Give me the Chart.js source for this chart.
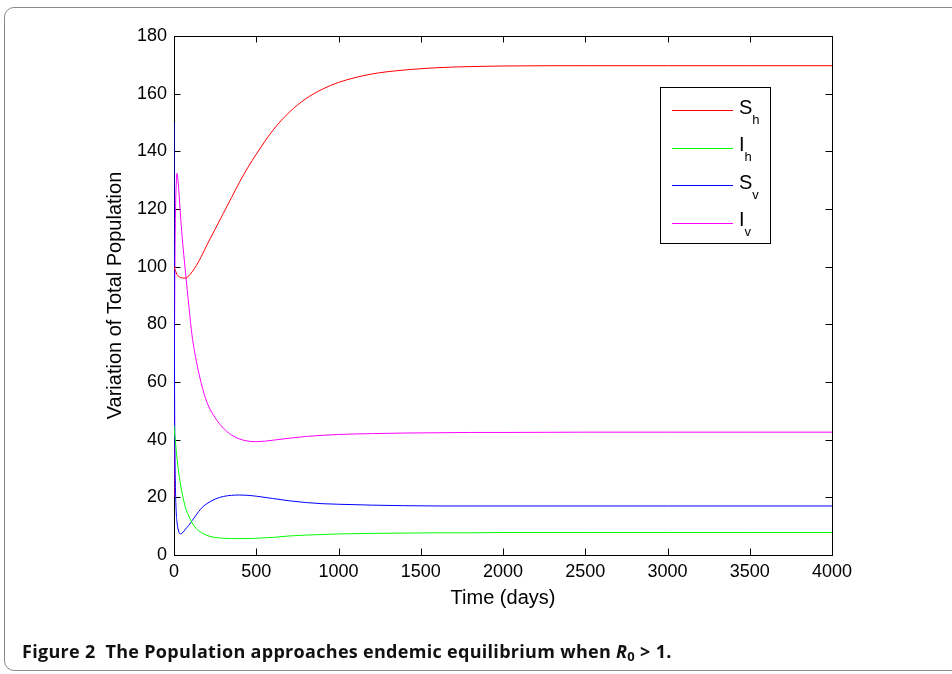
<!DOCTYPE html>
<html>
<head>
<meta charset="utf-8">
<script src="https://cdn.jsdelivr.net/npm/chart.js@4"></script>
<style>
  html, body { margin: 0; padding: 0; background: #fff; }
  body { width: 952px; height: 674px; position: relative; overflow: hidden; }
  #frame {
    position: absolute; left: 4px; top: 7px; width: 1000px; height: 664px;
    border: 1.5px solid #8a8a8a; border-radius: 10px; box-sizing: border-box;
  }
  #wrap { position: absolute; left: 0; top: 0; width: 952px; height: 674px; }
  #caption {
    position: absolute; left: 22px; top: 639px; white-space: nowrap; letter-spacing: 0.3px;
    font-family: "Open Sans", "Noto Sans", sans-serif; font-weight: bold; font-size: 18px; color: #111;
  }
  #caption sub { font-size: 13px; font-style: normal; vertical-align: -3px; line-height: 0; }
</style>
</head>
<body>
<div id="frame"></div>
<div id="wrap"><canvas id="popChart" width="952" height="674"></canvas></div>
<div id="caption">Figure 2&nbsp; The Population approaches endemic equilibrium when <i>R</i><sub>0</sub> &gt; 1.</div>
<script>
// time grid (days) shared by all four compartments
const days = [0, 2, 4, 8, 14, 18, 25, 38, 50, 70, 90, 110, 135, 166, 200, 250, 300, 350, 400, 450,
  500, 600, 700, 800, 900, 1000, 1200, 1400, 1600, 1800, 2000, 2500, 3000, 3500, 4000];

const susHost = [100, 99.6, 99.2, 98.8, 97.8, 97.3, 96.8, 96.3, 96.1, 96.0, 96.8, 98.2, 100.3, 103.5, 107.5, 113, 118.5, 124, 129.5, 134.5,
  139, 147.2, 153.5, 158.2, 161.5, 163.9, 166.8, 168.2, 169.0, 169.4, 169.6, 169.7, 169.7, 169.7, 169.7];
const infHost = [45, 43.5, 42, 39.9, 36, 33.8, 30.2, 25, 21.2, 16.4, 13.5, 11.2, 9.2, 7.8, 6.8, 6.1, 5.8, 5.7, 5.7, 5.7,
  5.8, 6.1, 6.6, 6.9, 7.1, 7.3, 7.5, 7.6, 7.7, 7.7, 7.8, 7.8, 7.8, 7.8, 7.8];
const susVector = [150, 85, 50, 26, 14.5, 11.5, 9.0, 7.3, 7.6, 9.0, 10.3, 11.9, 13.9, 16.2, 17.8, 19.4, 20.3, 20.7, 20.8, 20.7,
  20.4, 19.6, 18.8, 18.2, 17.8, 17.6, 17.3, 17.1, 17.0, 17.0, 17.0, 17.0, 17.0, 17.0, 17.0];
const infVector = [20, 55, 85, 115, 129, 132.4, 129.5, 119, 110, 98, 86.5, 76, 67.5, 59.5, 53.0, 47.6, 44.0, 41.6, 40.2, 39.5,
  39.3, 39.8, 40.5, 41.1, 41.5, 41.8, 42.1, 42.3, 42.4, 42.5, 42.5, 42.6, 42.6, 42.6, 42.6];

const seriesNames = [["S", "h"], ["I", "h"], ["S", "v"], ["I", "v"]];
const seriesColors = ["#ff0000", "#00ff00", "#0000ff", "#ff00ff"];
const xTicks = [0, 500, 1000, 1500, 2000, 2500, 3000, 3500, 4000];
const yTicks = [0, 20, 40, 60, 80, 100, 120, 140, 160, 180];

const FONT = "'Liberation Sans', Arial, sans-serif";

function toPoints(vals) {
  return days.map((d, i) => ({ x: d, y: vals[i] }));
}

// box around the axes plus inward tick marks on all four sides (curves go on top)
const boxTicks = {
  id: "boxTicks",
  beforeDatasetsDraw(chart) {
    const { ctx, chartArea: a, scales } = chart;
    const len = 6.5;
    ctx.save();
    ctx.strokeStyle = "#000";
    ctx.lineWidth = 1;
    ctx.beginPath();
    xTicks.forEach((v) => {
      const px = Math.round(scales.x.getPixelForValue(v)) + 0.5;
      ctx.moveTo(px, a.bottom); ctx.lineTo(px, a.bottom - len);
      ctx.moveTo(px, a.top); ctx.lineTo(px, a.top + len);
    });
    yTicks.forEach((v) => {
      const py = Math.round(scales.y.getPixelForValue(v)) + 0.5;
      ctx.moveTo(a.left, py); ctx.lineTo(a.left + len, py);
      ctx.moveTo(a.right, py); ctx.lineTo(a.right - len, py);
    });
    ctx.stroke();
    ctx.strokeRect(Math.round(a.left) + 0.5, Math.round(a.top) + 0.5,
      Math.round(a.right - a.left), Math.round(a.bottom - a.top));
    ctx.restore();
  },
};

// legend box with subscripted names
const subLegend = {
  id: "subLegend",
  afterDraw(chart) {
    const { ctx } = chart;
    const bx = 660, by = 87, bw = 110, bh = 156;
    ctx.save();
    ctx.fillStyle = "#fff";
    ctx.fillRect(bx, by, bw, bh);
    ctx.strokeStyle = "#000";
    ctx.lineWidth = 1;
    ctx.strokeRect(bx + 0.5, by + 0.5, bw, bh);
    chart.data.datasets.forEach((ds, i) => {
      const y = 110 + i * 37.6;
      ctx.strokeStyle = ds.borderColor;
      ctx.lineWidth = 1;
      ctx.beginPath();
      ctx.moveTo(672, Math.round(y) + 0.5);
      ctx.lineTo(733, Math.round(y) + 0.5);
      ctx.stroke();
      const [main, sub] = seriesNames[i];
      ctx.fillStyle = "#000";
      ctx.textBaseline = "alphabetic";
      ctx.font = "20px " + FONT;
      ctx.fillText(main, 739, y + 3.5);
      const w = ctx.measureText(main).width;
      ctx.font = "13px " + FONT;
      ctx.fillText(sub, 739 + w, y + 13.5);
    });
    ctx.restore();
  },
};

new Chart(document.getElementById("popChart"), {
  type: "line",
  data: {
    datasets: seriesNames.map((n, i) => ({
      label: n.join(""),
      data: toPoints([susHost, infHost, susVector, infVector][i]),
      borderColor: seriesColors[i],
      borderWidth: 1,
      pointRadius: 0,
      cubicInterpolationMode: "monotone",
      fill: false,
    })),
  },
  options: {
    responsive: false,
    animation: false,
    layout: { padding: { left: 0, right: 120, top: 36, bottom: 60 } },
    plugins: { legend: { display: false }, tooltip: { enabled: false } },
    scales: {
      x: {
        type: "linear",
        min: 0,
        max: 4000,
        afterBuildTicks: (s) => { s.ticks = xTicks.map((v) => ({ value: v })); },
        afterFit: (s) => { s.height = 674 - 555 - 60; },
        grid: { display: false, drawTicks: false },
        border: { display: false },
        ticks: { color: "#000", font: { family: FONT, size: 18 }, padding: 6, maxRotation: 0, callback: (v) => String(v) },
        title: { display: true, text: "Time (days)", color: "#000", font: { family: FONT, size: 20 }, padding: { top: 0, bottom: 4 } },
      },
      y: {
        type: "linear",
        min: 0,
        max: 180,
        afterBuildTicks: (s) => { s.ticks = yTicks.map((v) => ({ value: v })); },
        afterFit: (s) => { s.width = 174; },
        grid: { display: false, drawTicks: false },
        border: { display: false },
        ticks: { color: "#000", font: { family: FONT, size: 18 }, padding: 7, callback: (v) => String(v) },
        title: { display: true, text: "Variation of Total Population", color: "#000", font: { family: FONT, size: 20 }, padding: { top: 103, bottom: 0 } },
      },
    },
  },
  plugins: [boxTicks, subLegend],
});
</script>
</body>
</html>
